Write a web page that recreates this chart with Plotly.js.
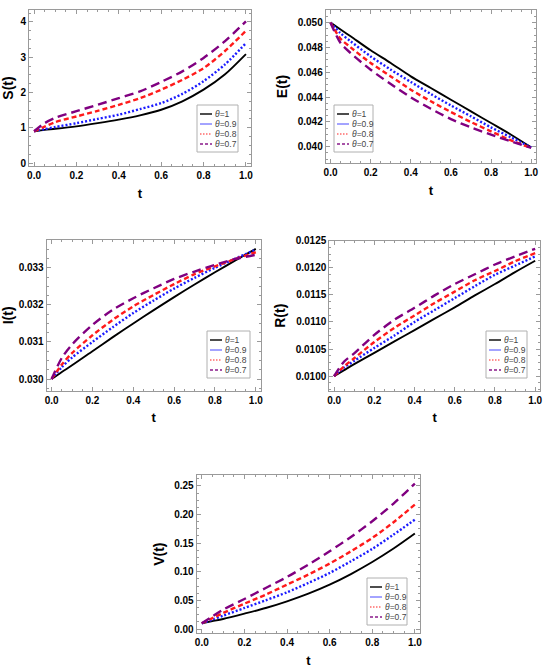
<!DOCTYPE html>
<html><head><meta charset="utf-8">
<script src="https://cdn.plot.ly/plotly-3.0.1.min.js"></script>
<style>html,body{margin:0;padding:0;background:#fff}#chart{width:550px;height:671px}</style>
</head><body><div id="chart"></div>
<script>
const t = [0, 0.05, 0.1, 0.2, 0.3, 0.4, 0.5, 0.6, 0.7, 0.8, 0.9, 1.0];
const seriesNames = ['<i>θ</i>=1', '<i>θ</i>=0.9', '<i>θ</i>=0.8', '<i>θ</i>=0.7'];

const S_1  = [0.9, 0.94, 0.97, 1.04, 1.13, 1.23, 1.35, 1.51, 1.75, 2.08, 2.51, 3.09];
const S_09 = [0.9, 0.96, 1.02, 1.13, 1.25, 1.37, 1.53, 1.70, 1.96, 2.32, 2.79, 3.40];
const S_08 = [0.9, 1.03, 1.16, 1.32, 1.48, 1.65, 1.84, 2.08, 2.36, 2.69, 3.17, 3.75];
const S_07 = [0.9, 1.13, 1.28, 1.47, 1.65, 1.84, 2.03, 2.30, 2.60, 2.98, 3.45, 4.02];

const E_1  = [0.0500, 0.04945, 0.0489, 0.04777, 0.04675, 0.04567, 0.04473, 0.04379, 0.04285, 0.04191, 0.04097, 0.03995];
const E_09 = [0.0500, 0.04915, 0.0485, 0.04728, 0.04621, 0.04522, 0.04425, 0.04333, 0.04245, 0.04156, 0.04075, 0.03995];
const E_08 = [0.0500, 0.0487, 0.04801, 0.04675, 0.04567, 0.0446, 0.04366, 0.0428, 0.04199, 0.04124, 0.04051, 0.0399];
const E_07 = [0.0500, 0.04836, 0.04755, 0.04621, 0.04505, 0.04398, 0.04306, 0.04223, 0.04156, 0.04097, 0.04043, 0.0399];

const I_1  = [0.0300, 0.03019, 0.03037, 0.03075, 0.03113, 0.0315, 0.03186, 0.03221, 0.03255, 0.03288, 0.0332, 0.03351];
const I_09 = [0.0300, 0.03032, 0.03058, 0.031, 0.0314, 0.03178, 0.03212, 0.03244, 0.03273, 0.033, 0.03325, 0.03349];
const I_08 = [0.0300, 0.03039, 0.0307, 0.03118, 0.0316, 0.03196, 0.03227, 0.03256, 0.03283, 0.03304, 0.03324, 0.03342];
const I_07 = [0.0300, 0.03057, 0.03093, 0.03146, 0.03187, 0.03218, 0.03245, 0.0327, 0.0329, 0.03308, 0.03324, 0.03335];

const R_1  = [0.0100, 0.01011, 0.01022, 0.01043, 0.01064, 0.01085, 0.01106, 0.01127, 0.01149, 0.0117, 0.01192, 0.01213];
const R_09 = [0.0100, 0.01016, 0.01028, 0.01052, 0.01075, 0.011, 0.01122, 0.01144, 0.01166, 0.01187, 0.01204, 0.01221];
const R_08 = [0.0100, 0.01018, 0.01033, 0.01063, 0.01089, 0.01112, 0.01135, 0.01156, 0.01177, 0.01194, 0.01212, 0.01227];
const R_07 = [0.0100, 0.01027, 0.01042, 0.01076, 0.01104, 0.01126, 0.01149, 0.0117, 0.01188, 0.01206, 0.01221, 0.01235];

const V_1  = [0.010, 0.0137, 0.0175, 0.0268, 0.0367, 0.0484, 0.0618, 0.0775, 0.0960, 0.1170, 0.1405, 0.1667];
const V_09 = [0.010, 0.0165, 0.0233, 0.0367, 0.0501, 0.0641, 0.0804, 0.0979, 0.1183, 0.1399, 0.1649, 0.1911];
const V_08 = [0.010, 0.019, 0.028, 0.0443, 0.0600, 0.0775, 0.0950, 0.1142, 0.1358, 0.1591, 0.1865, 0.2174];
const V_07 = [0.010, 0.022, 0.0338, 0.0524, 0.0717, 0.0909, 0.1125, 0.1358, 0.1608, 0.1882, 0.2191, 0.2541];

const xTicks = [0, 0.2, 0.4, 0.6, 0.8, 1.0];

const W = 550, H = 671;
const styles = [
  {color: '#000000', width: 1.9, dash: 'solid'},
  {color: '#1a1aff', width: 2.4, dash: '2px,2px'},
  {color: '#ff1a1a', width: 2.4, dash: '5px,3px'},
  {color: '#800080', width: 2.4, dash: '9px,5px'}
];
const legStyles = [
  {color: '#000000', width: 1.4, dash: 'solid'},
  {color: '#3333ff', width: 0.9, dash: 'solid'},
  {color: '#ff2020', width: 1.1, dash: '1.5px,1.5px'},
  {color: '#8a1a8a', width: 1.3, dash: '3px,2px'}
];

const panels = [
  {ys: [S_1, S_09, S_08, S_07], title: 'S(t)', yr: [-0.085, 4.34], dtick: 1, fmt: 'd',
   dom: {x: [0.0527, 0.4564], y: [0.7526, 0.9851]}, leg: {l: 197, t: 105, w: 41}},
  {ys: [E_1, E_09, E_08, E_07], title: 'E(t)', yr: [0.03869, 0.05102], dtick: 0.002, fmt: '.3f',
   dom: {x: [0.5922, 0.9745], y: [0.7571, 0.9851]}, leg: {l: 334, t: 105, w: 39}},
  {ys: [I_1, I_09, I_08, I_07], title: 'I(t)', yr: [0.029685, 0.03375], dtick: 0.001, fmt: '.3f',
   dom: {x: [0.0849, 0.474], y: [0.4177, 0.6423]}, leg: {l: 207, t: 331, w: 43}},
  {ys: [R_1, R_09, R_08, R_07], title: 'R(t)', yr: [0.00973, 0.0125], dtick: 0.0005, fmt: '.4f',
   dom: {x: [0.5987, 0.9818], y: [0.4177, 0.6413]}, leg: {l: 486, t: 331, w: 41}},
  {ys: [V_1, V_09, V_08, V_07], title: 'V(t)', yr: [-0.0075, 0.269], dtick: 0.05, fmt: '.2f',
   dom: {x: [0.3576, 0.7636], y: [0.0562, 0.2921]}, leg: {l: 367, t: 578, w: 40}}
];

const FONT = '"Liberation Sans", Arial, sans-serif';
const traces = [];
const shapes = [];
const annotations = [];
const layout = {
  width: W, height: H,
  margin: {l: 0, r: 0, t: 0, b: 0},
  paper_bgcolor: '#ffffff', plot_bgcolor: '#ffffff',
  font: {family: FONT, color: '#000'},
  showlegend: false,
  shapes: shapes, annotations: annotations
};
const px = v => v / W;
const py = v => 1 - v / H;

panels.forEach((p, i) => {
  const n = i === 0 ? '' : String(i + 1);
  p.ys.forEach((y, k) => {
    traces.push({
      type: 'scatter', mode: 'lines', x: t, y: y, name: seriesNames[k],
      xaxis: 'x' + n, yaxis: 'y' + n,
      line: {color: styles[k].color, width: styles[k].width, dash: styles[k].dash, shape: 'spline', smoothing: 0.8}
    });
  });
  const common = {
    showline: true, mirror: 'ticks', linecolor: '#9a9a9a', linewidth: 1,
    ticks: 'inside', ticklen: 4, tickcolor: '#9a9a9a', tickwidth: 1,
    showgrid: false, zeroline: false,
    tickfont: {family: FONT, size: 10, weight: 'bold', color: '#000'}
  };
  layout['xaxis' + n] = Object.assign({}, common, {
    domain: p.dom.x, range: [-0.024, 1.024], tickvals: xTicks, tickformat: '.1f',
    anchor: 'y' + n,
    minor: {ticks: 'inside', ticklen: 2, tickcolor: '#9a9a9a', dtick: 0.05, tick0: 0},
    title: {text: 't', standoff: 8, font: {family: FONT, size: 13, weight: 'bold', color: '#000'}}
  });
  layout['yaxis' + n] = Object.assign({}, common, {
    domain: p.dom.y, range: p.yr, dtick: p.dtick, tick0: 0, tickformat: p.fmt,
    anchor: 'x' + n,
    minor: {ticks: 'inside', ticklen: 2, tickcolor: '#9a9a9a', dtick: p.dtick / 4, tick0: 0},
    title: {text: p.title, standoff: 6, font: {family: FONT, size: 14, weight: 'bold', color: '#000'}}
  });
  const L = p.leg, boxH = 47;
  shapes.push({type: 'rect', xref: 'paper', yref: 'paper',
    x0: px(L.l), x1: px(L.l + L.w), y0: py(L.t + boxH), y1: py(L.t),
    line: {color: '#b0b0b0', width: 1}, fillcolor: '#ffffff', layer: 'above'});
  seriesNames.forEach((nm, k) => {
    const yy = L.t + 9 + k * 10;
    shapes.push({type: 'line', xref: 'paper', yref: 'paper',
      x0: px(L.l + 3), x1: px(L.l + 15), y0: py(yy), y1: py(yy),
      line: {color: legStyles[k].color, width: legStyles[k].width, dash: legStyles[k].dash}, layer: 'above'});
    annotations.push({xref: 'paper', yref: 'paper', x: px(L.l + 16), y: py(yy),
      xanchor: 'left', yanchor: 'middle', showarrow: false, text: nm,
      font: {family: FONT, size: 8.5, color: '#444'}});
  });
});

Plotly.newPlot('chart', traces, layout, {displayModeBar: false, staticPlot: true});
</script>
</body></html>
